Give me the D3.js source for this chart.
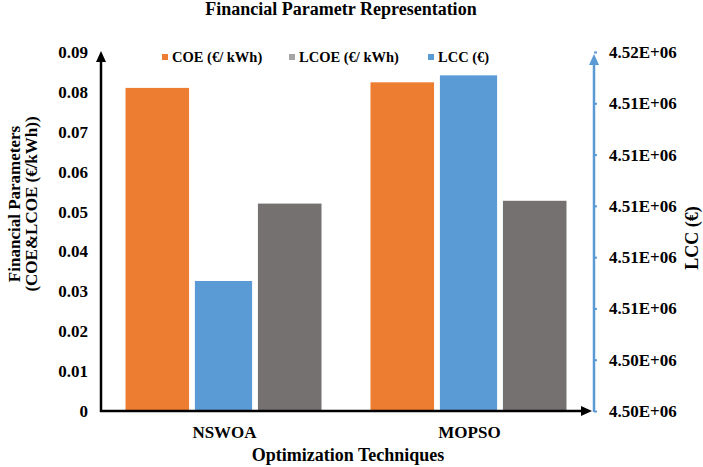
<!DOCTYPE html>
<html>
<head>
<meta charset="utf-8">
<script src="https://cdn.jsdelivr.net/npm/d3@7"></script>
<style>
  html, body { margin: 0; padding: 0; background: #fff; }
  svg { display: block; }
</style>
</head>
<body>
<svg id="chart" width="703" height="467" font-family="'Liberation Serif', serif"></svg>
<script>
const categories = ["NSWOA", "MOPSO"];
const seriesNames = ["COE (€/ kWh)", "LCOE (€/ kWh)", "LCC (€)"];
const coeValues = [0.0810, 0.0824];
const lcoeValues = [0.0520, 0.0527];
const lccValues = [4507070, 4515090];
const leftTicks = [0, 0.01, 0.02, 0.03, 0.04, 0.05, 0.06, 0.07, 0.08, 0.09];
const rightTicks = [4502000, 4504000, 4506000, 4508000, 4510000, 4512000, 4514000, 4516000];

const colors = { COE: "#ED7D31", LCOE: "#767171", LCC: "#5B9BD5", LCOELegend: "#A5A5A5" };
const FONT = "'Liberation Serif', 'Times New Roman', serif";

const svg = d3.select("#chart");
const pLeft = 101, pRight = 594, pTop = 52, pBottom = 411;

const x0 = d3.scaleBand().domain(categories).range([pLeft, pRight - 3]);
const inner = d3.scaleBand().domain(["COE", "LCC", "LCOE"]).range([-98, 98]).paddingInner(0.04);
const yL = d3.scaleLinear().domain([0, 0.09]).range([pBottom, pTop]);
const yR = d3.scaleLinear().domain([rightTicks[0], rightTicks[rightTicks.length - 1]]).range([pBottom, pTop]);

// Title
svg.append("text").attr("x", 341).attr("y", 15).attr("text-anchor", "middle")
  .style("font-size", "18px").text("Financial Parametr Representation");

// Bars
const g = svg.append("g");
categories.forEach((c, i) => {
  const cx = x0(c) + x0.bandwidth() / 2;
  g.append("rect").attr("x", cx + inner("COE")).attr("width", inner.bandwidth())
    .attr("y", yL(coeValues[i])).attr("height", yL(0) - yL(coeValues[i]))
    .attr("fill", colors.COE);
  g.append("rect").attr("x", cx + inner("LCOE")).attr("width", inner.bandwidth())
    .attr("y", yL(lcoeValues[i])).attr("height", yL(0) - yL(lcoeValues[i]))
    .attr("fill", colors.LCOE);
  const bw = inner.bandwidth() * 0.9;
  const bc = cx + inner("LCC") + inner.bandwidth() / 2;
  g.append("rect").attr("x", bc - bw / 2).attr("width", bw)
    .attr("y", yR(lccValues[i])).attr("height", yR(rightTicks[0]) - yR(lccValues[i]))
    .attr("fill", colors.LCC);
});

// Left axis
const leftFmt = v => v === 0 ? "0" : d3.format(".2f")(v);
const la = svg.append("g").attr("transform", `translate(${pLeft},0)`)
  .call(d3.axisLeft(yL).tickValues(leftTicks).tickFormat(leftFmt).tickSize(0).tickPadding(13));
la.select(".domain").remove();
la.selectAll("text").style("font-size", "17px");

// Right axis
const rightFmt = v => {
  const e = Math.floor(Math.log10(v));
  const m = v / Math.pow(10, e);
  return m.toFixed(2) + "E+" + String(e).padStart(2, "0");
};
const ra = svg.append("g").attr("transform", `translate(${pRight},0)`)
  .call(d3.axisRight(yR).tickValues(rightTicks).tickFormat(rightFmt).tickSize(3).tickPadding(12));
ra.select(".domain").remove();
ra.selectAll("line").attr("stroke", colors.LCC).attr("stroke-width", 2);
ra.selectAll("text").style("font-size", "17px");

// Axis lines with arrows
function arrowUp(x, yTip, color) {
  svg.append("line").attr("x1", x).attr("x2", x).attr("y1", pBottom + 1).attr("y2", yTip + 8)
    .attr("stroke", color).attr("stroke-width", 2.5);
  svg.append("path").attr("d", `M${x - 5},${yTip + 11} L${x},${yTip} L${x + 5},${yTip + 11} Z`).attr("fill", color);
}
arrowUp(pLeft, pTop - 1, "#000");
arrowUp(pRight, pTop + 2, colors.LCC);
svg.append("line").attr("x1", pLeft - 1).attr("x2", pRight - 10).attr("y1", pBottom).attr("y2", pBottom)
  .attr("stroke", "#000").attr("stroke-width", 2.5);
svg.append("path").attr("d", `M${pRight - 13},${pBottom - 5} L${pRight - 2},${pBottom} L${pRight - 13},${pBottom + 5} Z`).attr("fill", "#000");

// Category labels
categories.forEach(c => {
  svg.append("text").attr("x", x0(c) + x0.bandwidth() / 2 + 1).attr("y", 438)
    .attr("text-anchor", "middle").style("font-size", "17px").text(c);
});

// Axis titles
svg.append("text").attr("x", 348).attr("y", 461).attr("text-anchor", "middle")
  .style("font-size", "18px").text("Optimization Techniques");
const lt = svg.append("text").attr("transform", "translate(0,204) rotate(-90)")
  .attr("text-anchor", "middle").style("font-size", "17px");
lt.append("tspan").attr("x", 0).attr("y", 20).text("Financial Parameters");
lt.append("tspan").attr("x", 0).attr("y", 37).text("(COE&LCOE (€/kWh))");
svg.append("text").attr("transform", "translate(698,238) rotate(-90)")
  .attr("text-anchor", "middle").style("font-size", "18px").text("LCC (€)");

// Legend
const legendItems = [
  { name: seriesNames[0], color: colors.COE, x: 162 },
  { name: seriesNames[1], color: colors.LCOELegend, x: 289 },
  { name: seriesNames[2], color: colors.LCC, x: 428 }
];
legendItems.forEach(d => {
  svg.append("rect").attr("x", d.x).attr("y", 54).attr("width", 6).attr("height", 6).attr("fill", d.color);
  svg.append("text").attr("x", d.x + 10).attr("y", 62).style("font-size", "14.5px").text(d.name);
});

svg.selectAll("text").style("font-family", FONT).style("font-weight", "bold").attr("fill", "#000");
</script>
</body>
</html>
